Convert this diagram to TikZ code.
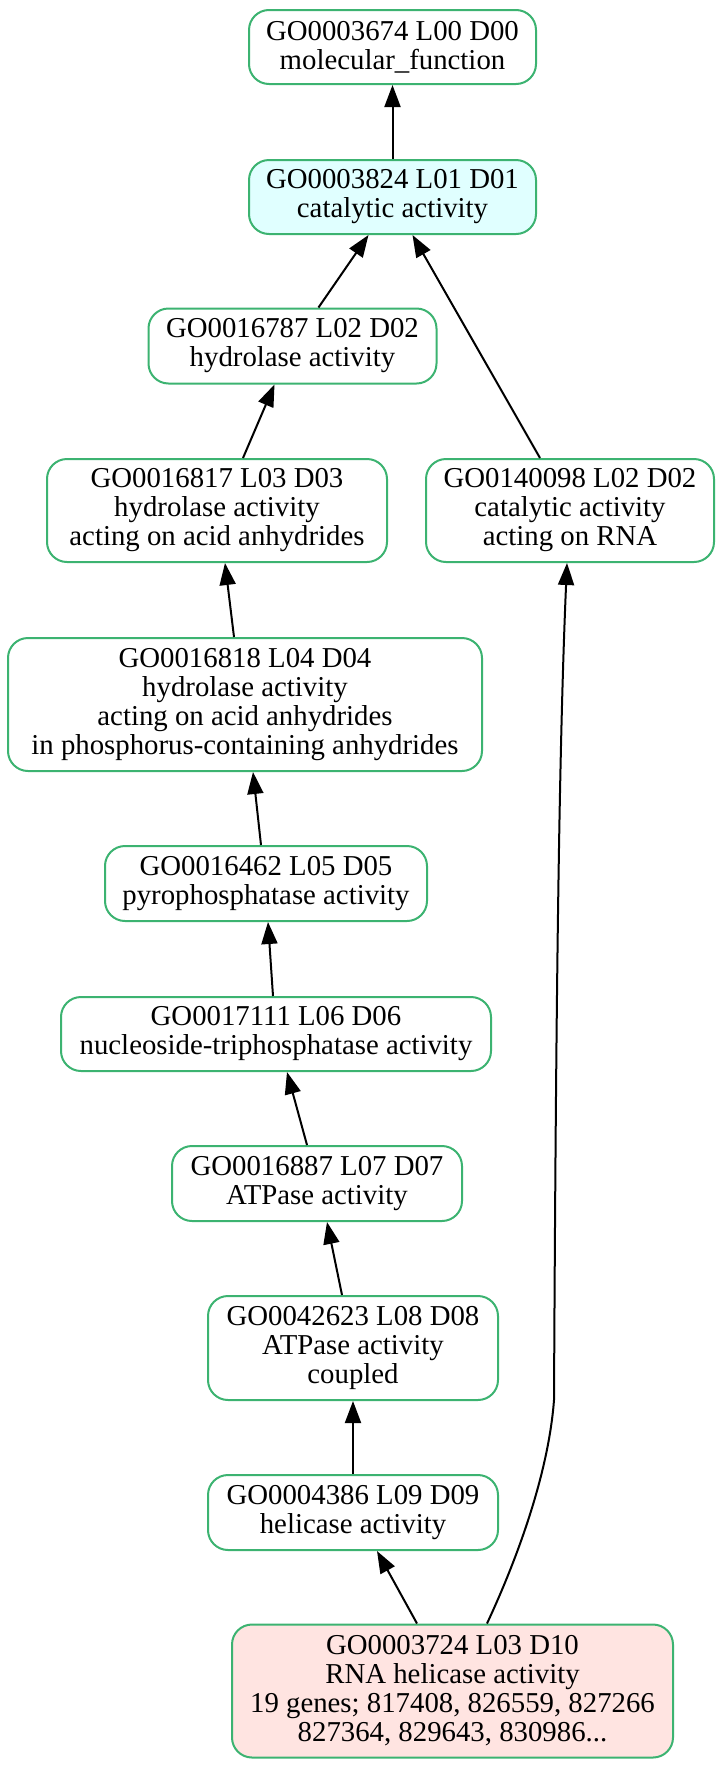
\documentclass[tikz,border=0pt]{standalone}
\usepackage{fontspec}
\setmainfont{Liberation Serif}
\usepackage{tikz}
\usetikzlibrary{
  arrows.meta,
  positioning,
  calc
}
\definecolor{goborder}{HTML}{3CB371}
\definecolor{gocyan}{HTML}{E0FFFF}
\definecolor{gorose}{HTML}{FFE4E1}
\tikzset{
  goterm/.style={
    rectangle, rounded corners=10pt, draw=goborder, line width=1pt,
    fill=white, inner sep=0pt,
    minimum width=145pt, minimum height=37.5pt,
    align=center, font=\fontsize{14.4pt}{14.5pt}\selectfont
  },
  catterm/.style={goterm, fill=gocyan},
  studyterm/.style={goterm, fill=gorose},
  arrow/.style={-{Triangle[length=11pt,width=8pt]}, line width=1pt}
}

\begin{document}
\begin{tikzpicture}[x=0.5pt, y=-0.5pt]

\useasboundingbox (0,0) rectangle (723,1767);

% Root
\node[goterm, minimum width=143.5pt, minimum height=37pt] (g3674) at (392.5,47)
  {GO0003674 L00 D00\\molecular\_function};

% Level 1
\node[catterm, minimum width=143.5pt, minimum height=37pt] (g3824) at (392.5,197)
  {GO0003824 L01 D01\\catalytic activity};
\draw[arrow] (g3824) -- (g3674);

% Hydrolase branch
\node[goterm, minimum width=144pt] (g16787) at (292.5,346)
  {GO0016787 L02 D02\\hydrolase activity};
\draw[arrow] ([xshift=13pt]g16787.north) -- ([xshift=-12pt]g3824.south);

\node[goterm, minimum width=170pt, minimum height=51.5pt] (g16817) at (217,510.5)
  {GO0016817 L03 D03\\hydrolase activity\\acting on acid anhydrides};
\draw[arrow] ([xshift=13pt]g16817.north) -- ([xshift=-9pt]g16787.south);

% RNA branch
\node[goterm, minimum width=144pt, minimum height=51.5pt] (g140098) at (570,510.5)
  {GO0140098 L02 D02\\catalytic activity\\acting on RNA};
\draw[arrow] ([xshift=-15pt]g140098.north) -- ([xshift=10pt]g3824.south);

\node[goterm, minimum width=237pt, minimum height=66.5pt] (g16818) at (245,704.5)
  {GO0016818 L04 D04\\hydrolase activity\\acting on acid anhydrides\\in phosphorus-containing anhydrides};
\draw[arrow] ([xshift=-5.5pt]g16818.north) -- ([xshift=4pt]g16817.south);

\node[goterm, minimum width=161pt] (g16462) at (266,883.5)
  {GO0016462 L05 D05\\pyrophosphatase activity};
\draw[arrow] ([xshift=-2.5pt]g16462.north) -- ([xshift=4pt]g16818.south);

\node[goterm, minimum width=215pt, minimum height=37pt] (g17111) at (276,1034)
  {GO0017111 L06 D06\\nucleoside-triphosphatase activity};
\draw[arrow] ([xshift=-1.5pt]g17111.north) -- ([xshift=1pt]g16462.south);

\node[goterm] (g16887) at (317,1183.5)
  {GO0016887 L07 D07\\ATPase activity};
\draw[arrow] ([xshift=-5pt]g16887.north) -- ([xshift=5.5pt]g17111.south);

\node[goterm, minimum height=52pt] (g42623) at (353,1348)
  {GO0042623 L08 D08\\ATPase activity\\coupled};
\draw[arrow] ([xshift=-5.5pt]g42623.north) -- ([xshift=5pt]g16887.south);

\node[goterm] (g4386) at (353,1512.5)
  {GO0004386 L09 D09\\helicase activity};
\draw[arrow] (g4386) -- (g42623);

% Study term
\node[studyterm, minimum width=220.5pt, minimum height=66.5pt] (g3724) at (452.5,1691)
  {GO0003724 L03 D10\\RNA helicase activity\\19 genes; 817408, 826559, 827266\\827364, 829643, 830986...};
\draw[arrow] ([xshift=-17.75pt]g3724.north) -- ([xshift=12pt]g4386.south);

\coordinate (bend) at (554,1400);
\draw[arrow] ([xshift=17.25pt]g3724.north) .. controls (512,1570) and (548,1480) .. (bend)
  .. controls (556,1000) and (559,750) .. ([xshift=-1.5pt]g140098.south);

\end{tikzpicture}
\end{document}
